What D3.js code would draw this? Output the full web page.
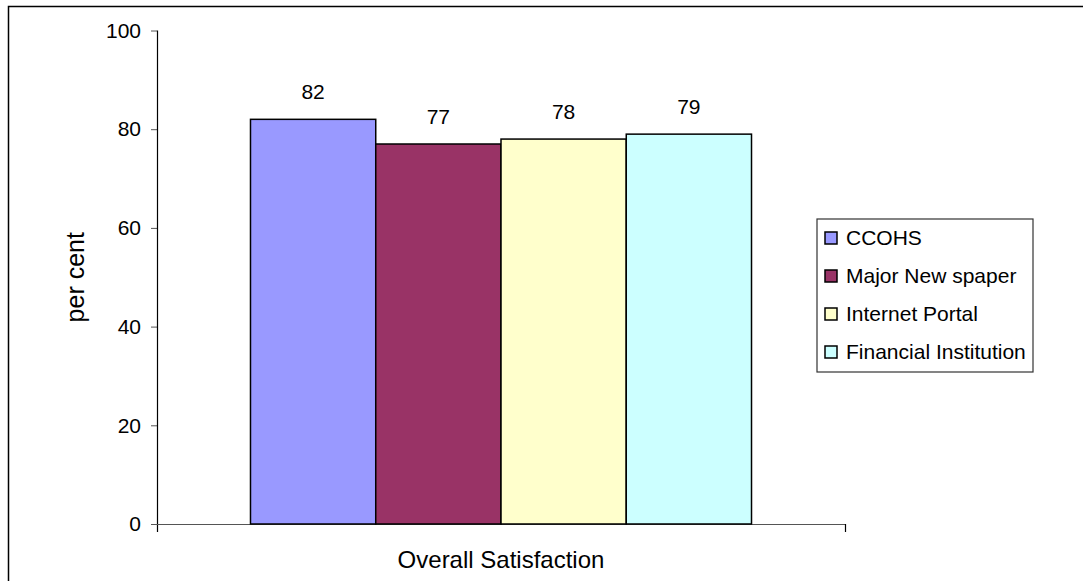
<!DOCTYPE html>
<html>
<head>
<meta charset="utf-8">
<script src="https://cdn.jsdelivr.net/npm/d3@7"></script>
<style>
  html, body { margin: 0; padding: 0; background: #fff; }
  svg { display: block; font-family: "Liberation Sans", Arial, sans-serif; }
</style>
</head>
<body>
<svg id="chart" width="1083" height="581"></svg>
<script>
const categories = ["Overall Satisfaction"];
const seriesNames = ["CCOHS", "Major New spaper", "Internet Portal", "Financial Institution"];
const seriesValues = [82, 77, 78, 79];
const seriesColors = ["#9999FF", "#993366", "#FFFFCC", "#CCFFFF"];
const yTicks = [0, 20, 40, 60, 80, 100];

const svg = d3.select("#chart");
const W = 1083, H = 581;
const fs = 21;
const titleFs = 24;

// outer border (top and left visible)
svg.append("path")
  .attr("d", `M8.5,${H} L8.5,6.5 L${W},6.5`)
  .attr("fill", "none").attr("stroke", "#000").attr("stroke-width", 1.5);

const plot = { left: 157, right: 845, top: 30.5, bottom: 524 };

const x0 = d3.scaleBand().domain(categories)
  .range([plot.left, plot.right]).paddingInner(0).paddingOuter(0.1866);
const x1 = d3.scaleBand().domain(seriesNames)
  .range([0, x0.bandwidth()]).padding(0);
const y = d3.scaleLinear().domain([0, 100]).range([plot.bottom, plot.top]);

// y axis
const yAxis = d3.axisLeft(y).tickValues(yTicks).tickSize(6).tickPadding(10).tickSizeOuter(0);
const gy = svg.append("g").attr("transform", `translate(${plot.left},0)`).call(yAxis);
gy.select(".domain").remove();
gy.selectAll(".tick line").attr("stroke", "#555");
gy.selectAll(".tick text").attr("font-size", fs).attr("fill", "#000")
  .attr("font-family", "Liberation Sans, Arial, sans-serif");
svg.append("line")
  .attr("x1", plot.left + 0.5).attr("x2", plot.left + 0.5)
  .attr("y1", plot.top).attr("y2", plot.bottom + 8)
  .attr("stroke", "#000").attr("stroke-width", 1.2);

// x axis
svg.append("line")
  .attr("x1", plot.left - 6).attr("x2", plot.right)
  .attr("y1", plot.bottom + 0.5).attr("y2", plot.bottom + 0.5)
  .attr("stroke", "#555").attr("stroke-width", 1.2);
svg.append("line")
  .attr("x1", plot.right + 0.5).attr("x2", plot.right + 0.5)
  .attr("y1", plot.bottom).attr("y2", plot.bottom + 8)
  .attr("stroke", "#000").attr("stroke-width", 1.2);

// bars
const data = seriesNames.map((s, i) => ({ series: s, value: seriesValues[i], color: seriesColors[i] }));
const g = svg.append("g").attr("transform", `translate(${x0(categories[0])},0)`);
g.selectAll("rect").data(data).enter().append("rect")
  .attr("x", d => x1(d.series))
  .attr("y", d => y(d.value))
  .attr("width", x1.bandwidth())
  .attr("height", d => y(0) - y(d.value))
  .attr("fill", d => d.color)
  .attr("stroke", "#000").attr("stroke-width", 1.5);
g.selectAll("text.val").data(data).enter().append("text")
  .attr("class", "val")
  .attr("x", d => x1(d.series) + x1.bandwidth() / 2)
  .attr("y", d => y(d.value) - 20)
  .attr("text-anchor", "middle")
  .attr("font-size", fs)
  .text(d => d.value);

// x category label
svg.append("text")
  .attr("x", x0(categories[0]) + x0.bandwidth() / 2)
  .attr("y", 567.5)
  .attr("text-anchor", "middle").attr("font-size", titleFs)
  .text(categories[0]);

// y axis title
svg.append("text")
  .attr("transform", `translate(84,${(plot.top + plot.bottom) / 2}) rotate(-90)`)
  .attr("text-anchor", "middle").attr("font-size", 25)
  .text("per cent");

// legend
const lg = svg.append("g");
lg.append("rect").attr("x", 817).attr("y", 219).attr("width", 216).attr("height", 153)
  .attr("fill", "#fff").attr("stroke", "#333").attr("stroke-width", 1.2);
const items = lg.selectAll("g.item").data(data).enter().append("g")
  .attr("transform", (d, i) => `translate(825,${238 + i * 38})`);
items.append("rect").attr("x", 0).attr("y", -6).attr("width", 12).attr("height", 12)
  .attr("fill", d => d.color).attr("stroke", "#000").attr("stroke-width", 1.5);
items.append("text").attr("x", 21).attr("y", 0).attr("dy", "0.35em")
  .attr("font-size", fs).text(d => d.series);
</script>
</body>
</html>
